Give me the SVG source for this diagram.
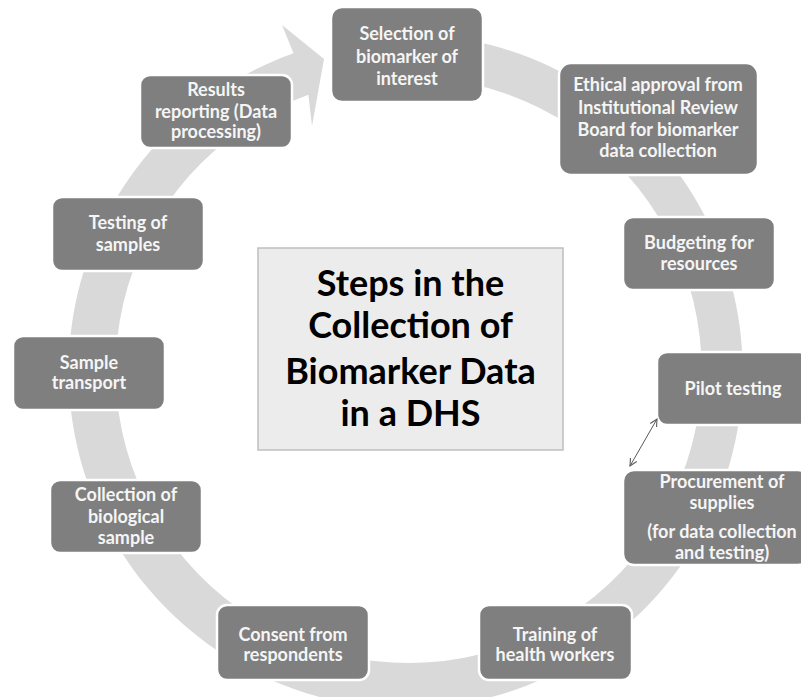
<svg xmlns="http://www.w3.org/2000/svg" width="801" height="697" viewBox="0 0 801 697">
<defs>
<style>
.box{fill:#7f7f7f;stroke:#ffffff;stroke-width:2.5}
.t{font-family:Lato,"Liberation Sans",sans-serif;font-weight:bold;font-size:18px;fill:#f5f5f5;text-anchor:middle}
.title{font-family:Lato,"Liberation Sans",sans-serif;font-weight:bold;font-size:36px;fill:#000000;text-anchor:middle}
.ring{fill:#d9d9d9}
</style>
<marker id="ah" viewBox="0 0 10 10" refX="9" refY="5" markerWidth="9" markerHeight="9" orient="auto-start-reverse" markerUnits="userSpaceOnUse">
<path d="M1,1 L9,5 L1,9" fill="none" stroke="#595959" stroke-width="1.2"/>
</marker>
</defs>
<rect width="801" height="697" fill="#ffffff"/>
<g id="cycle-arrow">
<path class="ring" d="M397.3,34.2 A337,337 0 1 1 293.5,53.3 L282,25 L324,59 L312,126 L308.4,94.7 A293,293 0 1 0 398.7,77.2 Z"/>
</g>
<g id="title">
<rect x="258" y="248" width="305" height="202" fill="#ececec" stroke="#bfbfbf" stroke-width="1.5"/>
<text class="title" x="410.5" y="296">Steps in the</text>
<text class="title" x="410.5" y="338">Collection of</text>
<text class="title" x="410.5" y="384">Biomarker Data</text>
<text class="title" x="410.5" y="426">in a DHS</text>
</g>
<g id="n1">
<rect class="box" x="331" y="7" width="152" height="95" rx="11"/>
<text class="t" x="407" y="40">Selection of</text>
<text class="t" x="407" y="63">biomarker of</text>
<text class="t" x="407" y="85">interest</text>
</g>
<g id="n2">
<rect class="box" x="559" y="63" width="199" height="112" rx="12"/>
<text class="t" x="658" y="91">Ethical approval from</text>
<text class="t" x="658" y="114">Institutional Review</text>
<text class="t" x="658" y="136">Board for biomarker</text>
<text class="t" x="658" y="157">data collection</text>
</g>
<g id="n3">
<rect class="box" x="623" y="217" width="152" height="73" rx="10"/>
<text class="t" x="699" y="249">Budgeting for</text>
<text class="t" x="699" y="270">resources</text>
</g>
<g id="n4">
<rect class="box" x="657" y="352" width="152" height="73" rx="10"/>
<text class="t" x="733" y="395">Pilot testing</text>
</g>
<g id="n5">
<rect class="box" x="623" y="470" width="186" height="95" rx="11"/>
<text class="t" x="722" y="488">Procurement of</text>
<text class="t" x="722" y="509">supplies</text>
<text class="t" x="722" y="538">(for data collection</text>
<text class="t" x="722" y="559">and testing)</text>
</g>
<g id="n6">
<rect class="box" x="479" y="605" width="153" height="75" rx="10"/>
<text class="t" x="555" y="641">Training of</text>
<text class="t" x="555" y="661">health workers</text>
</g>
<g id="n7">
<rect class="box" x="217" y="605" width="152" height="75" rx="10"/>
<text class="t" x="293" y="641">Consent from</text>
<text class="t" x="293" y="661">respondents</text>
</g>
<g id="n8">
<rect class="box" x="50" y="480" width="152" height="73" rx="10"/>
<text class="t" x="126" y="501">Collection of</text>
<text class="t" x="126" y="523">biological</text>
<text class="t" x="126" y="544">sample</text>
</g>
<g id="n9">
<rect class="box" x="13" y="336" width="152" height="74" rx="10"/>
<text class="t" x="89" y="369">Sample</text>
<text class="t" x="89" y="389">transport</text>
</g>
<g id="n10">
<rect class="box" x="52" y="197" width="152" height="74" rx="10"/>
<text class="t" x="128" y="229">Testing of</text>
<text class="t" x="128" y="251">samples</text>
</g>
<g id="n11">
<rect class="box" x="140" y="75" width="152" height="73" rx="10"/>
<text class="t" x="216" y="96">Results</text>
<text class="t" x="216" y="118">reporting (Data</text>
<text class="t" x="216" y="138">processing)</text>
</g>
<g id="connectors">
<line x1="657" y1="419" x2="630" y2="466" stroke="#595959" stroke-width="1" marker-start="url(#ah)" marker-end="url(#ah)"/>
</g>
</svg>
